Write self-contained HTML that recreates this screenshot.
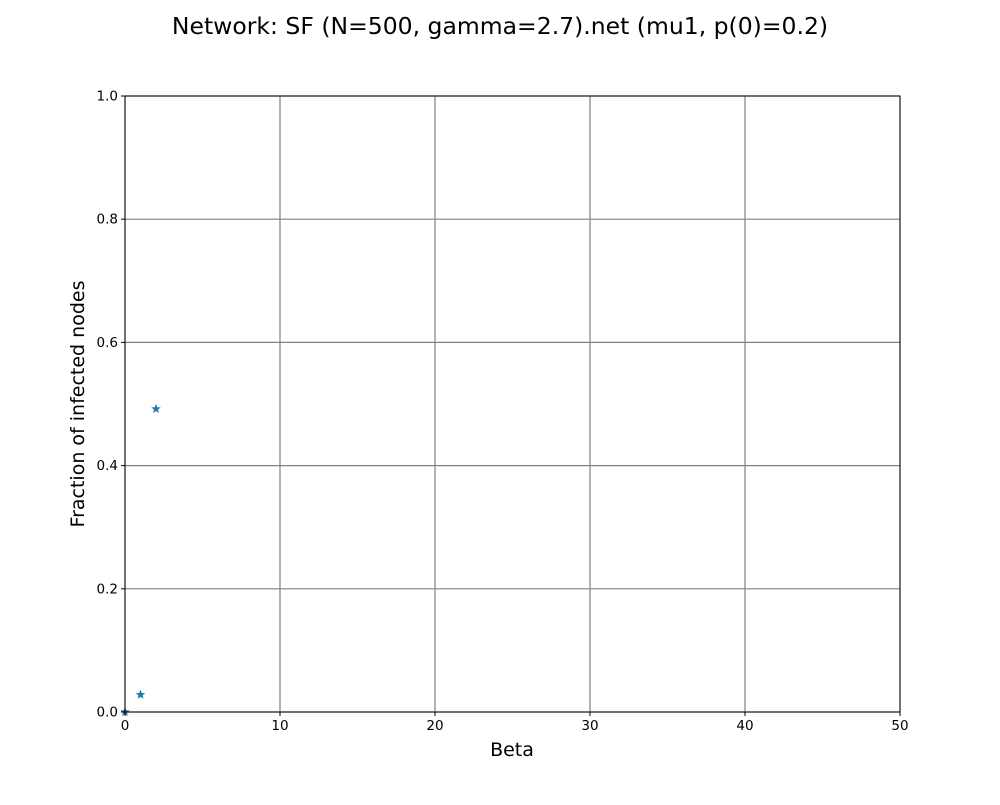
<!DOCTYPE html>
<html><head><meta charset="utf-8"><style>
body{margin:0;background:#fff;}
svg text{font-family:"DejaVu Sans","Liberation Sans",sans-serif;}
</style></head><body>
<svg id="chart" width="1000" height="800" xmlns="http://www.w3.org/2000/svg">
<rect width="1000" height="800" fill="#fff"/>
<text x="500" y="34" text-anchor="middle" font-size="23.5">Network: SF (N=500, gamma=2.7).net (mu1, p(0)=0.2)</text>
<g id="grid"></g>
<g id="marks"></g>
<rect x="125" y="96" width="775" height="616" fill="none" stroke="#000" stroke-width="1"/>
<g id="ticks"></g>
<text x="512" y="756" text-anchor="middle" font-size="19">Beta</text>
<text transform="translate(84,404) rotate(-90)" text-anchor="middle" font-size="19">Fraction of infected nodes</text>
</svg>
<script>
const betaValues = [0, 1, 2];
const infectedFraction = [0.0, 0.028, 0.492];
const xTicks = [0, 10, 20, 30, 40, 50];
const yTicks = [0.0, 0.2, 0.4, 0.6, 0.8, 1.0];
const NS = "http://www.w3.org/2000/svg";
const X0=125, X1=900, Y0=712, Y1=96;
const sx = v => X0 + (v-0)/(50-0)*(X1-X0);
const sy = v => Y0 - (v-0)/(1-0)*(Y0-Y1);
const grid = document.getElementById('grid'), ticks = document.getElementById('ticks'), marks = document.getElementById('marks');
function mk(tag, attrs, parent){const e=document.createElementNS(NS,tag);for(const k in attrs)e.setAttribute(k,attrs[k]);parent.appendChild(e);return e;}
xTicks.forEach(t=>{
  const x=sx(t);
  const g=mk('line',{x1:x,x2:x,y1:Y1,y2:Y0,stroke:'#808080','stroke-width':1.2},grid);
  
  
  mk('line',{x1:x,x2:x,y1:Y0,y2:Y0+4,stroke:'#000'},ticks);
  const l=mk('text',{x:x,y:Y0+18,'text-anchor':'middle','font-size':13.5},ticks);
  l.textContent=t;
  
  
});
yTicks.forEach(t=>{
  const y=sy(t);
  const g=mk('line',{x1:X0,x2:X1,y1:y,y2:y,stroke:'#808080','stroke-width':1.2},grid);
  
  
  mk('line',{x1:X0-4,x2:X0,y1:y,y2:y,stroke:'#000'},ticks);
  const l=mk('text',{x:X0-7,y:y+4.5,'text-anchor':'end','font-size':13.5},ticks);
  l.textContent=t.toFixed(1);
  
  
});
function starPath(cx,cy,r){let d='';for(let i=0;i<10;i++){const rr=i%2?r*0.42:r;const a=-Math.PI/2+i*Math.PI/5;d+=(i?'L':'M')+(cx+rr*Math.cos(a)).toFixed(2)+','+(cy+rr*Math.sin(a)).toFixed(2);}return d+'Z';}
betaValues.forEach((b,i)=>{
  const p=mk('path',{d:starPath(sx(b),sy(infectedFraction[i]),5),fill:'#1f77b4'},marks);
  
  
});
</script>
</body></html>
